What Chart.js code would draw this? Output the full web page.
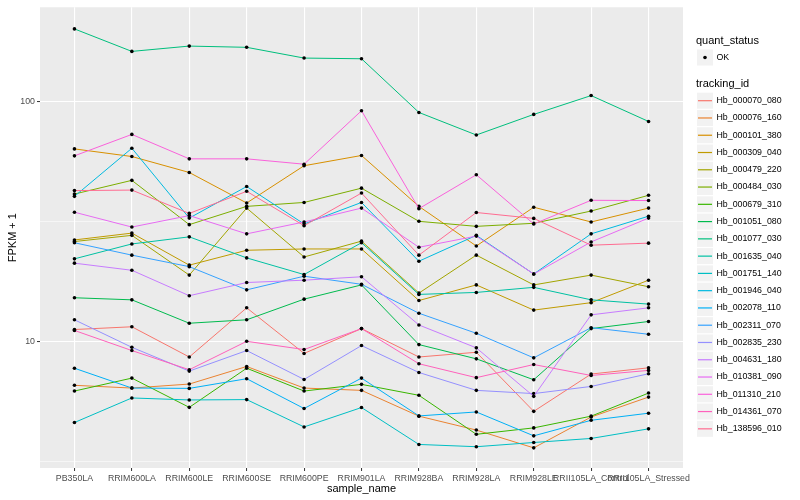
<!DOCTYPE html>
<html>
<head>
<meta charset="utf-8">
<script src="https://cdn.jsdelivr.net/npm/chart.js@4.4.1/dist/chart.umd.min.js"></script>
<style>
  body { margin: 0; background: #fff; }
  canvas { display: block; }
</style>
</head>
<body>
<canvas id="fpkmChart" width="800" height="500"></canvas>
<script>
const categories = ['PB350LA', 'RRIM600LA', 'RRIM600LE', 'RRIM600SE', 'RRIM600PE', 'RRIM901LA',
  'RRIM928BA', 'RRIM928LA', 'RRIM928LE', 'RRII105LA_Control', 'RRII105LA_Stressed'];

// FPKM + 1 per sample
const hb_000070_080 = [11.2, 11.5, 8.6, 13.8, 8.9, 11.3, 8.6, 9.0, 5.1, 7.3, 7.75];
const hb_000076_160 = [6.55, 6.38, 6.63, 7.85, 6.38, 6.24, 4.87, 4.26, 3.59, 4.83, 5.85];
const hb_000101_380 = [63.6, 59.1, 50.7, 37.8, 54.1, 59.7, 36.6, 25.0, 36.3, 31.5, 36.0];
const hb_000309_040 = [26.5, 28.3, 20.8, 24.0, 24.3, 24.3, 14.8, 17.2, 13.5, 14.5, 18.0];
const hb_000479_220 = [26.1, 27.7, 18.9, 36.0, 22.5, 26.2, 15.9, 22.9, 17.2, 18.9, 16.9];
const hb_000484_030 = [41.2, 47.0, 30.7, 36.6, 38.0, 43.6, 31.7, 30.2, 31.1, 35.0, 40.7];
const hb_000679_310 = [6.20, 7.02, 5.30, 7.72, 6.20, 6.61, 5.95, 4.09, 4.35, 4.87, 6.08];
const hb_001051_080 = [15.2, 14.9, 11.9, 12.3, 15.0, 17.2, 9.69, 8.45, 6.91, 11.3, 12.1];
const hb_001077_030 = [201.6, 162.4, 170.9, 168.9, 152.3, 151.3, 90.3, 72.7, 88.6, 106.2, 82.8];
const hb_001635_040 = [22.1, 25.5, 27.3, 22.3, 19.0, 25.8, 15.7, 16.0, 16.8, 14.9, 14.3];
const hb_001751_140 = [4.58, 5.80, 5.69, 5.71, 4.39, 5.29, 3.71, 3.63, 3.78, 3.93, 4.31];
const hb_001946_040 = [40.3, 64.0, 32.7, 44.3, 30.9, 38.0, 21.6, 27.7, 19.1, 28.1, 33.3];
const hb_002078_110 = [7.72, 6.38, 6.36, 6.98, 5.24, 7.02, 4.88, 5.07, 4.03, 4.68, 5.01];
const hb_002311_070 = [25.8, 22.9, 20.5, 16.4, 18.7, 17.3, 13.1, 10.8, 8.53, 11.4, 10.7];
const hb_002835_230 = [12.3, 9.44, 7.51, 9.15, 6.93, 9.60, 7.41, 6.24, 6.05, 6.48, 7.32];
const hb_004631_180 = [21.2, 19.8, 15.5, 17.6, 18.0, 18.6, 11.7, 9.39, 5.89, 12.9, 13.8];
const hb_010381_090 = [34.6, 30.0, 33.5, 28.1, 31.5, 36.0, 24.7, 27.5, 19.1, 26.0, 32.7];
const hb_011310_210 = [59.5, 73.1, 57.8, 57.8, 54.9, 91.8, 35.8, 49.6, 30.9, 38.8, 38.7];
const hb_014361_070 = [11.1, 9.15, 7.61, 10.0, 9.24, 11.3, 8.06, 7.05, 8.00, 7.20, 7.56];
const hb_138596_010 = [42.6, 42.8, 34.2, 42.3, 30.4, 41.6, 22.9, 34.5, 32.6, 25.2, 25.7];

const trackingIds = ['Hb_000070_080', 'Hb_000076_160', 'Hb_000101_380', 'Hb_000309_040', 'Hb_000479_220',
  'Hb_000484_030', 'Hb_000679_310', 'Hb_001051_080', 'Hb_001077_030', 'Hb_001635_040',
  'Hb_001751_140', 'Hb_001946_040', 'Hb_002078_110', 'Hb_002311_070', 'Hb_002835_230',
  'Hb_004631_180', 'Hb_010381_090', 'Hb_011310_210', 'Hb_014361_070', 'Hb_138596_010'];
const seriesValues = [hb_000070_080, hb_000076_160, hb_000101_380, hb_000309_040, hb_000479_220,
  hb_000484_030, hb_000679_310, hb_001051_080, hb_001077_030, hb_001635_040,
  hb_001751_140, hb_001946_040, hb_002078_110, hb_002311_070, hb_002835_230,
  hb_004631_180, hb_010381_090, hb_011310_210, hb_014361_070, hb_138596_010];

// y ticks: labelled majors + unlabelled minor grid lines
const yMajorTicks = [10, 100];
const yMinorTicks = [3.1623, 31.623];

// ggplot hue palette for 20 groups
const palette = ['#F8766D', '#EA8331', '#D89000', '#C09B00', '#A3A500', '#7CAE00', '#39B600', '#00BB4E',
  '#00BF7D', '#00C1A3', '#00BFC4', '#00BAE0', '#00B0F6', '#35A2FF', '#9590FF', '#C77CFF',
  '#E76BF3', '#FA62DB', '#FF62BC', '#FF6C91'];

const fontFamily = '"Liberation Sans", Arial, sans-serif';

const datasets = trackingIds.map((id, i) => ({
  label: id,
  data: seriesValues[i].map((v, j) => ({ x: j, y: v })),
  borderColor: palette[i],
  backgroundColor: palette[i],
  borderWidth: 1,
  pointRadius: 1.8,
  pointBackgroundColor: '#000',
  pointBorderWidth: 0,
  tension: 0,
  order: trackingIds.length - i
}));

const isMajor = (v) => yMajorTicks.some(m => Math.abs(m - v) < 1e-6);

// grey panel behind the grid
const panelBg = {
  id: 'panelBg',
  beforeDraw(chart) {
    const { ctx, chartArea: a } = chart;
    ctx.save();
    ctx.fillStyle = '#EBEBEB';
    ctx.fillRect(a.left, a.top, a.right - a.left, a.bottom - a.top);
    ctx.restore();
  }
};

// two-part legend like ggplot's (quant_status + tracking_id)
const ggLegend = {
  id: 'ggLegend',
  afterDraw(chart) {
    const ctx = chart.ctx;
    const x0 = 697, keyW = 16, keyH = 16, step = 17.27;
    ctx.save();
    ctx.textBaseline = 'middle';
    ctx.textAlign = 'left';
    ctx.fillStyle = '#000';
    ctx.font = '11px ' + fontFamily;
    ctx.fillText('quant_status', 696, 41);
    ctx.fillStyle = '#F2F2F2';
    ctx.fillRect(x0, 49.5, keyW, keyH);
    ctx.fillStyle = '#000';
    ctx.beginPath();
    ctx.arc(x0 + keyW / 2, 57.5, 1.8, 0, Math.PI * 2);
    ctx.fill();
    ctx.font = '8.8px ' + fontFamily;
    ctx.fillText('OK', 716.5, 57.5);
    ctx.font = '11px ' + fontFamily;
    ctx.fillText('tracking_id', 696, 84);
    chart.data.datasets.forEach((ds, i) => {
      const cy = 100.7 + i * step;
      ctx.fillStyle = '#F2F2F2';
      ctx.fillRect(x0, cy - keyH / 2, keyW, keyH);
      ctx.strokeStyle = ds.borderColor;
      ctx.lineWidth = 1.2;
      ctx.beginPath();
      ctx.moveTo(x0 + 1, cy);
      ctx.lineTo(x0 + keyW - 1, cy);
      ctx.stroke();
      ctx.fillStyle = '#000';
      ctx.font = '8.8px ' + fontFamily;
      ctx.fillText(ds.label, 716.5, cy);
    });
    ctx.restore();
  }
};

const config = {
  type: 'line',
  data: { datasets: datasets },
  options: {
    responsive: false,
    animation: false,
    events: [],
    layout: { padding: { top: 5, right: 117, bottom: 0, left: 0 } },
    plugins: {
      legend: { display: false },
      tooltip: { enabled: false }
    },
    scales: {
      x: {
        type: 'linear',
        min: -0.6,
        max: categories.length - 0.4,
        afterBuildTicks: (axis) => { axis.ticks = categories.map((c, i) => ({ value: i })); },
        afterFit: (axis) => { axis.height = 32; },
        border: { display: false },
        grid: { color: '#FFFFFF', lineWidth: 1.1, tickColor: '#333333', tickLength: 3, tickWidth: 1 },
        ticks: {
          autoSkip: false, maxRotation: 0, minRotation: 0, padding: 2,
          color: '#4D4D4D', font: { family: fontFamily, size: 8.8 },
          callback: (value) => categories[value] ?? ''
        },
        title: {
          display: true, text: 'sample_name', color: '#000',
          font: { family: fontFamily, size: 11 }, padding: { top: 0, bottom: 4 }
        }
      },
      y: {
        type: 'logarithmic',
        min: 2.958,
        max: 248.2,
        afterBuildTicks: (axis) => {
          axis.ticks = yMinorTicks.concat(yMajorTicks).sort((a, b) => a - b).map(v => ({ value: v }));
        },
        afterFit: (axis) => { axis.width = 40; },
        border: { display: false },
        grid: {
          color: '#FFFFFF',
          lineWidth: (ctx) => (ctx.tick && isMajor(ctx.tick.value) ? 1.1 : 0.55),
          tickColor: (ctx) => (ctx.tick && isMajor(ctx.tick.value) ? '#333333' : 'rgba(0,0,0,0)'),
          tickLength: 3,
          tickWidth: 1
        },
        ticks: {
          autoSkip: false, padding: 2,
          color: '#4D4D4D', font: { family: fontFamily, size: 8.8 },
          callback: (value) => (isMajor(value) ? String(Math.round(value)) : '')
        },
        title: {
          display: true, text: 'FPKM + 1', color: '#000',
          font: { family: fontFamily, size: 11 }, padding: { top: 6, bottom: 0 }
        }
      }
    }
  },
  plugins: [panelBg, ggLegend]
};

const fpkmCanvas = document.getElementById('fpkmChart');
var fpkmChart = new Chart(fpkmCanvas, config);
</script>
</body>
</html>
